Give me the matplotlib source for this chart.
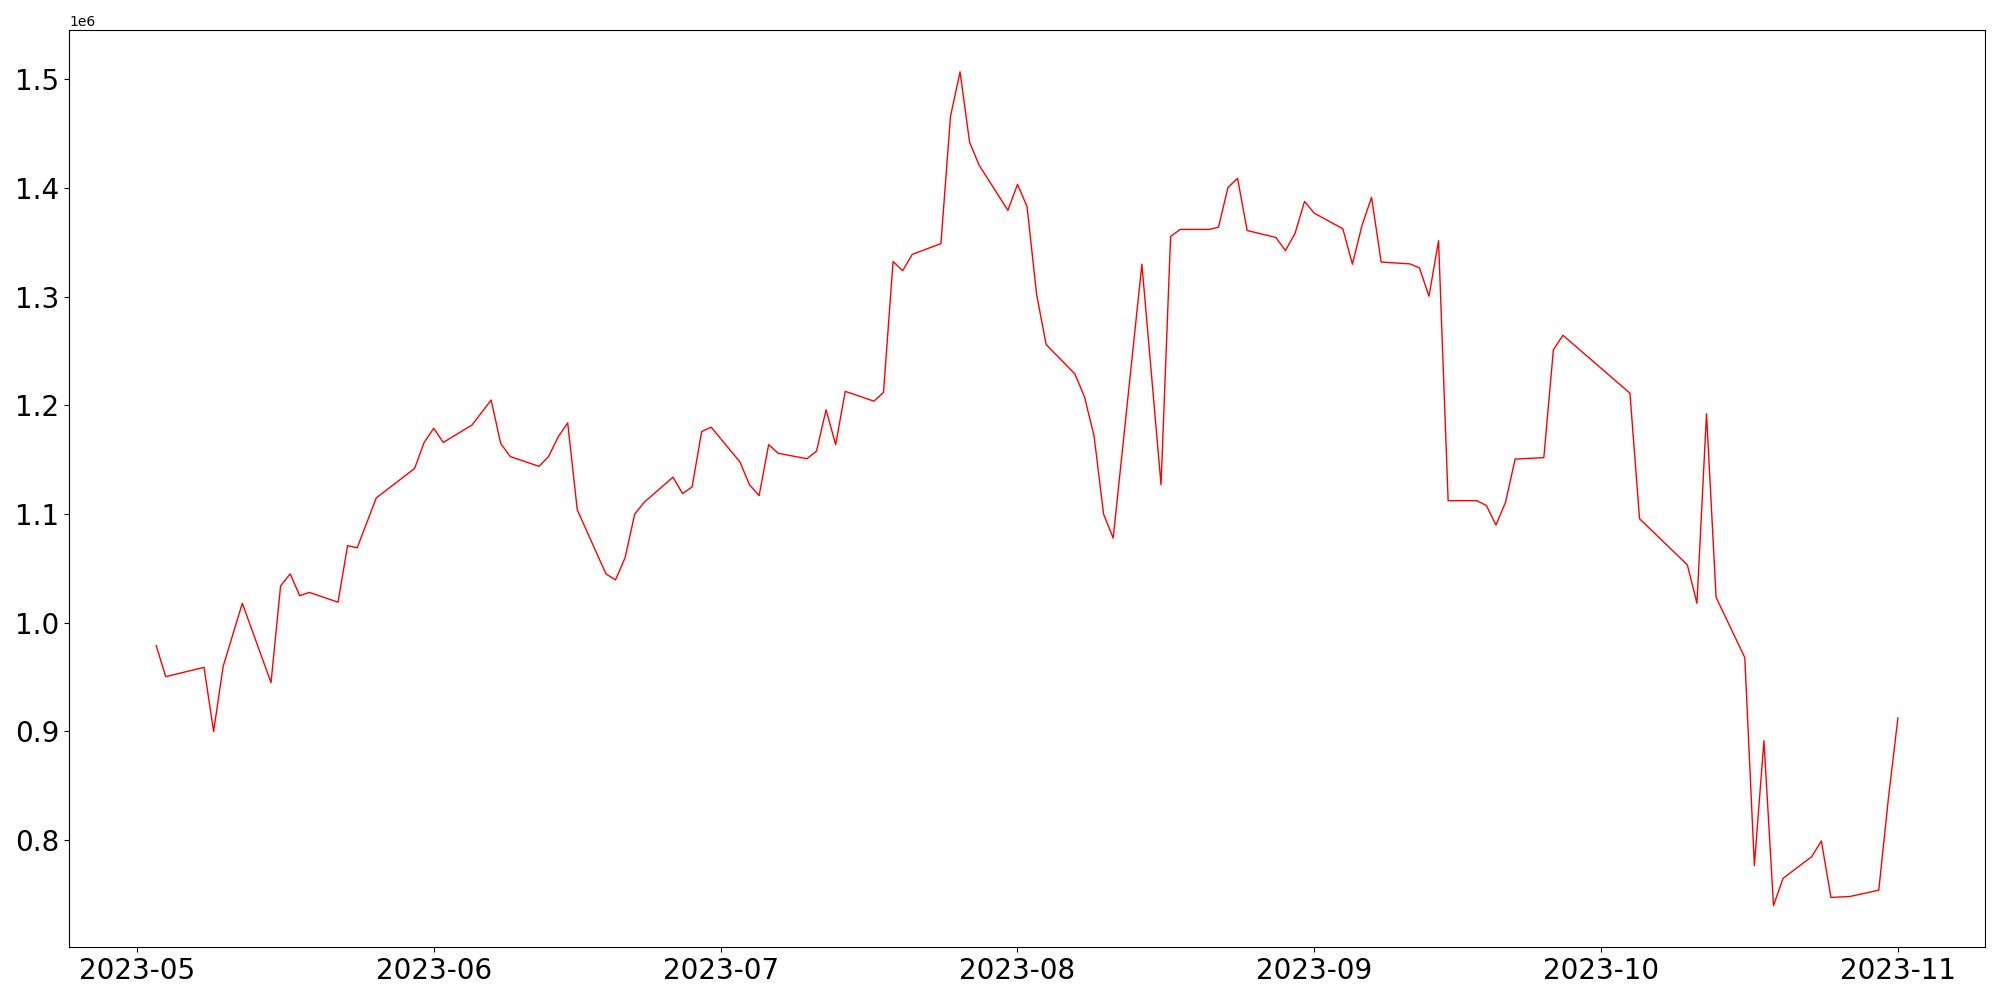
import pandas as pd
import matplotlib
matplotlib.use("Agg")
import matplotlib.pyplot as plt

# Fechas (días con dato) y valores
dates = [
    "2023-05-03", "2023-05-04", "2023-05-08", "2023-05-09", "2023-05-10", "2023-05-12",
    "2023-05-15", "2023-05-16", "2023-05-17", "2023-05-18", "2023-05-19", "2023-05-22",
    "2023-05-23", "2023-05-24", "2023-05-26", "2023-05-30", "2023-05-31",
    "2023-06-01", "2023-06-02", "2023-06-05", "2023-06-07", "2023-06-08", "2023-06-09",
    "2023-06-12", "2023-06-13", "2023-06-14", "2023-06-15", "2023-06-16", "2023-06-19",
    "2023-06-20", "2023-06-21", "2023-06-22", "2023-06-23", "2023-06-26", "2023-06-27",
    "2023-06-28", "2023-06-29", "2023-06-30",
    "2023-07-03", "2023-07-04", "2023-07-05", "2023-07-06", "2023-07-07", "2023-07-10",
    "2023-07-11", "2023-07-12", "2023-07-13", "2023-07-14", "2023-07-17", "2023-07-18",
    "2023-07-19", "2023-07-20", "2023-07-21", "2023-07-24", "2023-07-25", "2023-07-26",
    "2023-07-27", "2023-07-28", "2023-07-31",
    "2023-08-01", "2023-08-02", "2023-08-03", "2023-08-04", "2023-08-07", "2023-08-08",
    "2023-08-09", "2023-08-10", "2023-08-11", "2023-08-14", "2023-08-16", "2023-08-17",
    "2023-08-18", "2023-08-21", "2023-08-22", "2023-08-23", "2023-08-24", "2023-08-25",
    "2023-08-28", "2023-08-29", "2023-08-30", "2023-08-31",
    "2023-09-01", "2023-09-04", "2023-09-05", "2023-09-06", "2023-09-07", "2023-09-08",
    "2023-09-11", "2023-09-12", "2023-09-13", "2023-09-14", "2023-09-15", "2023-09-18",
    "2023-09-19", "2023-09-20", "2023-09-21", "2023-09-22", "2023-09-25", "2023-09-26",
    "2023-09-27",
    "2023-10-04", "2023-10-05", "2023-10-10", "2023-10-11", "2023-10-12", "2023-10-13",
    "2023-10-16", "2023-10-17", "2023-10-18", "2023-10-19", "2023-10-20", "2023-10-23",
    "2023-10-24", "2023-10-25", "2023-10-27", "2023-10-30", "2023-10-31", "2023-11-01",
]

values = [
    0.979, 0.9505, 0.959, 0.900, 0.960, 1.018,
    0.945, 1.034, 1.045, 1.025, 1.028, 1.019,
    1.071, 1.069, 1.115, 1.142, 1.166,
    1.179, 1.166, 1.182, 1.205, 1.165, 1.153,
    1.144, 1.153, 1.171, 1.184, 1.104, 1.045,
    1.0395, 1.060, 1.100, 1.111, 1.134, 1.119,
    1.125, 1.176, 1.180,
    1.148, 1.127, 1.117, 1.164, 1.156, 1.151,
    1.158, 1.196, 1.164, 1.213, 1.204, 1.212,
    1.3325, 1.324, 1.339, 1.349, 1.466, 1.507,
    1.442, 1.421, 1.3795,
    1.4035, 1.383, 1.302, 1.256, 1.229, 1.208,
    1.172, 1.100, 1.078, 1.330, 1.127, 1.3555,
    1.362, 1.362, 1.364, 1.4007, 1.409, 1.361,
    1.3546, 1.3426, 1.3583, 1.3878,
    1.377, 1.3626, 1.330, 1.3657, 1.3915, 1.332,
    1.3303, 1.3267, 1.3005, 1.3516, 1.1124, 1.1124,
    1.108, 1.090, 1.111, 1.1507, 1.152, 1.2513,
    1.2646,
    1.2113, 1.0958, 1.0533, 1.018, 1.1923, 1.0235,
    0.968, 0.7766, 0.8915, 0.7398, 0.7649, 0.7849,
    0.7993, 0.7473, 0.7482, 0.754, 0.838, 0.9124,
]

df = pd.DataFrame({"fecha": pd.to_datetime(dates), "valor": [v * 1e6 for v in values]})

fig, ax = plt.subplots(figsize=(20, 10), dpi=100)
ax.plot(df["fecha"], df["valor"], color="red", linewidth=1)

plt.xticks(fontsize=20)
plt.yticks(fontsize=20)
plt.tight_layout()
plt.savefig("out.png")
